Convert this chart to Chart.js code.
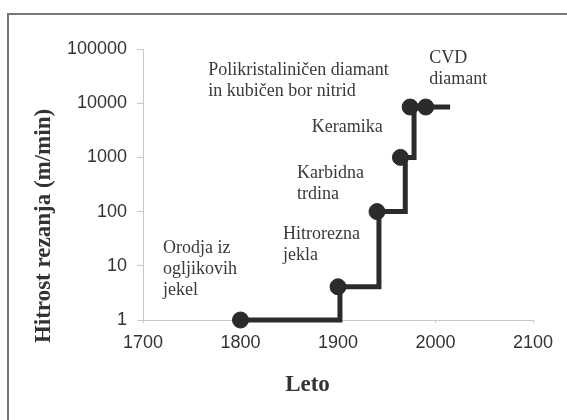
<!DOCTYPE html>
<html>
<head>
<meta charset="utf-8">
<script src="https://cdn.jsdelivr.net/npm/chart.js@4.4.0/dist/chart.umd.min.js"></script>
<style>
    html, body { margin: 0; padding: 0; background: #fff; }
    #wrap { position: relative; width: 567px; height: 420px; overflow: hidden; }
    #frame { position: absolute; left: 7px; top: 13px; width: 600px; height: 500px; border: 2px solid #777; }
    #chart { position: absolute; left: 0; top: 0; }
</style>
</head>
<body>
<div id="wrap">
    <div id="frame"></div>
    <canvas id="chart" width="567" height="420"></canvas>
</div>
<script>
// step line (path of the curve)
var stepYears  = [1800, 1902, 1902, 1942, 1942, 1969, 1969, 1978, 1978, 2015];
var stepSpeeds = [1,    1,    4.1,  4.1,  100,  100,  1000, 1000, 8500, 8500];

// markers
var pointYears  = [1800, 1900, 1940, 1964, 1974, 1990];
var pointSpeeds = [1,    4.1,  100,  1000, 8500, 8500];

// axis ticks
var xTicks = [1700, 1800, 1900, 2000, 2100];
var yTicks = [1, 10, 100, 1000, 10000, 100000];

// text labels next to the curve
var labelLines = [
    ['Polikristaliničen diamant', 'in kubičen bor nitrid'],
    ['CVD', 'diamant'],
    ['Keramika'],
    ['Karbidna', 'trdina'],
    ['Hitrorezna', 'jekla'],
    ['Orodja iz', 'ogljikovih', 'jekel']
];
var labelYears  = [1767, 1993.5, 1873, 1858, 1843.5, 1720.5];
var labelSpeeds = [39700, 68200, 3560, 513, 38.8, 21.1];

function toXY(xs, ys) {
    return xs.map(function(x, i) { return { x: x, y: ys[i] }; });
}

var textPlugin = {
    id: 'textPlugin',
    afterDatasetsDraw: function(chart) {
        var ctx = chart.ctx;
        var sx = chart.scales.x, sy = chart.scales.y;
        ctx.save();
        ctx.fillStyle = '#3a3a3a';
        ctx.font = '18px "Liberation Serif", "Times New Roman", serif';
        ctx.textAlign = 'left';
        ctx.textBaseline = 'middle';
        labelLines.forEach(function(lines, i) {
            var px = sx.getPixelForValue(labelYears[i]);
            var py = sy.getPixelForValue(labelSpeeds[i]);
            lines.forEach(function(line, j) {
                ctx.fillText(line, px, py + j * 21);
            });
        });

        // axis titles
        ctx.fillStyle = '#333';
        ctx.font = 'bold 23px "Liberation Serif", "Times New Roman", serif';
        ctx.textAlign = 'center';
        ctx.fillText('Leto', 307.5, 385);
        ctx.translate(44, 226);
        ctx.rotate(-Math.PI / 2);
        ctx.fillText('Hitrost rezanja (m/min)', 0, 0);
        ctx.restore();
    }
};

new Chart(document.getElementById('chart'), {
    type: 'scatter',
    data: {
        datasets: [{
            data: toXY(stepYears, stepSpeeds),
            showLine: true,
            clip: false,
            borderColor: '#2b2b2b',
            borderWidth: 5,
            borderJoinStyle: 'miter',
            pointRadius: 0,
            pointHoverRadius: 0
        }, {
            data: toXY(pointYears, pointSpeeds),
            showLine: false,
            clip: false,
            backgroundColor: '#2b2b2b',
            borderColor: '#2b2b2b',
            pointRadius: 8,
            pointHoverRadius: 8
        }]
    },
    options: {
        responsive: false,
        animation: false,
        events: [],
        layout: { padding: { left: 0, top: 49, right: 34, bottom: 0 } },
        plugins: {
            legend: { display: false },
            tooltip: { enabled: false }
        },
        scales: {
            x: {
                type: 'linear',
                min: 1700,
                max: 2100,
                afterFit: function(scale) { scale.height = 100; },
                afterBuildTicks: function(scale) {
                    scale.ticks = xTicks.map(function(v) { return { value: v }; });
                },
                grid: { drawOnChartArea: false, tickLength: 3, color: '#c8c8c8' },
                border: { color: '#c8c8c8', width: 1 },
                ticks: {
                    padding: 9,
                    color: '#333',
                    font: { family: '"Liberation Sans", Arial, sans-serif', size: 18 },
                    maxRotation: 0,
                    callback: function(value) { return String(value); }
                }
            },
            y: {
                type: 'logarithmic',
                min: 1,
                max: 100000,
                afterFit: function(scale) { scale.width = 143; },
                afterBuildTicks: function(scale) {
                    scale.ticks = yTicks.map(function(v) { return { value: v }; });
                },
                grid: { drawOnChartArea: false, tickLength: 6, color: '#c8c8c8' },
                border: { color: '#c8c8c8', width: 1 },
                ticks: {
                    padding: 10,
                    color: '#333',
                    font: { family: '"Liberation Sans", Arial, sans-serif', size: 18 },
                    callback: function(value) { return String(value); }
                }
            }
        }
    },
    plugins: [textPlugin]
});
</script>
</body>
</html>
